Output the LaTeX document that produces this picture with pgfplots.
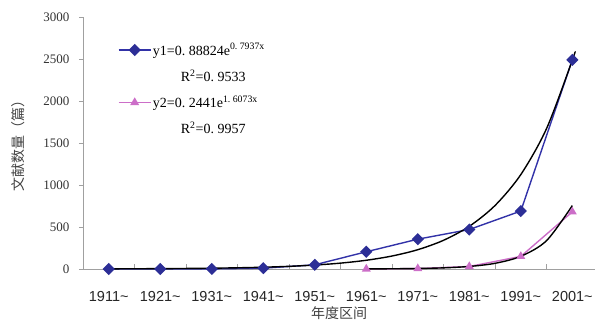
\documentclass[border=0pt]{standalone}
\usepackage{pgfplots}
\pgfplotsset{compat=1.18}
\usepackage{fontspec}
\setmainfont{Liberation Serif}
\newfontfamily\arialfont{Liberation Sans}
\newfontfamily\cjk{Noto Sans CJK SC}
\definecolor{serblue}{RGB}{50,50,168}
\definecolor{mkblue}{RGB}{44,46,150}
\definecolor{serpink}{RGB}{204,110,200}
\definecolor{axgray}{RGB}{160,160,160}
\begin{document}
\begin{tikzpicture}
\begin{axis}[
  at={(0pt,0pt)}, anchor=south west,
  scale only axis, width=512pt, height=252pt,
  xmin=0, xmax=9.94, ymin=0, ymax=3000,
  axis x line*=bottom, axis y line*=left,
  axis line style={axgray, line width=0.8pt},
  ytick={0,500,...,3000},
  tick align=outside,
  major tick length=4pt,
  ytick style={axgray, line width=0.8pt},
  yticklabel style={font=\fontsize{13}{15}\selectfont, text=black!80, xshift=-6pt},
  /pgf/number format/assume math mode=true,
  /pgf/number format/1000 sep={},
  xtick={0.5,1.5,...,9.5},
  xticklabels={1911\textasciitilde,1921\textasciitilde,1931\textasciitilde,1941\textasciitilde,1951\textasciitilde,1961\textasciitilde,1971\textasciitilde,1981\textasciitilde,1991\textasciitilde,2001\textasciitilde},
  xtick style={draw=none},
  xticklabel style={font=\arialfont\fontsize{14.5}{16}\selectfont, text=black!85, yshift=-15pt},
  extra x ticks={1,2,...,9},
  extra x tick labels={},
  extra x tick style={tick align=inside, major tick length=5pt, xtick style={draw=axgray, line width=0.6pt}},
  xlabel={\cjk 年度区间},
  xlabel style={at={(axis description cs:0.5,-0.175)}, anchor=center, font=\fontsize{14}{16}\selectfont, text=black!75},
  ylabel={\cjk 文献数量（篇）},
  ylabel style={at={(axis description cs:-0.127,0.5)}, anchor=center, font=\fontsize{14}{16}\selectfont, text=black!75},
  clip=false,
  legend image code/.code={\draw[mark repeat=2,mark phase=2,#1] plot coordinates {(0pt,0pt)(16pt,0pt)(32pt,0pt)};},
  legend style={draw=none, fill=none, at={(axis description cs:0.068,0.902)}, anchor=north west,
    font=\fontsize{14}{16}\selectfont, row sep=10pt, inner sep=0pt,
    nodes={inner sep=1.5pt}},
  legend cell align=left,
]
\addplot[serblue, line width=1.4pt, mark=square*, mark size=3.6pt, mark options={rotate=45, fill=mkblue, draw=mkblue}]
  coordinates {(0.5,0) (1.5,0) (2.5,1) (3.5,10) (4.5,50) (5.5,205) (6.5,355) (7.5,470) (8.5,690) (9.5,2490)};
\addlegendentry{y1=0.\ 88824e\textsuperscript{0.\ 7937x}}
\addlegendimage{empty legend}
\addlegendentry{\hspace{28pt}R\textsuperscript{2}=0.\ 9533}
\addplot[serpink, line width=1.4pt, mark=triangle*, mark size=3.8pt, mark options={fill=serpink, draw=serpink}]
  coordinates {(5.5,0) (6.5,5) (7.5,30) (8.5,150) (9.5,680)};
\addlegendentry{y2=0.\ 2441e\textsuperscript{1.\ 6073x}}
\addlegendimage{empty legend}
\addlegendentry{\hspace{28pt}R\textsuperscript{2}=0.\ 9957}
% trend lines (fitted values)
\addplot[black, line width=1.4pt, smooth, forget plot] coordinates {
 (0.5,1.96) (1.0,2.92) (1.5,4.34) (2.0,6.46) (2.5,9.61) (3.0,14.29) (3.5,21.25) (4.0,31.60)
 (4.5,47.00) (5.0,69.90) (5.5,103.9) (6.0,154.6) (6.5,229.9) (7.0,341.9) (7.5,508.4)
 (8.0,756.2) (8.5,1124.5) (9.0,1672.4) (9.5,2486) (9.55,2588)};
\addplot[black, line width=1.4pt, smooth, forget plot] coordinates {
 (5.5,1.22) (6.0,2.72) (6.5,6.08) (7.0,13.57) (7.5,30.32) (8.0,67.7) (8.5,151.2) (9.0,337.8) (9.5,754.7)};
\end{axis}
\pgfresetboundingbox
\useasboundingbox (-83pt,-51pt) rectangle (512pt,269pt);
\end{tikzpicture}
\end{document}
